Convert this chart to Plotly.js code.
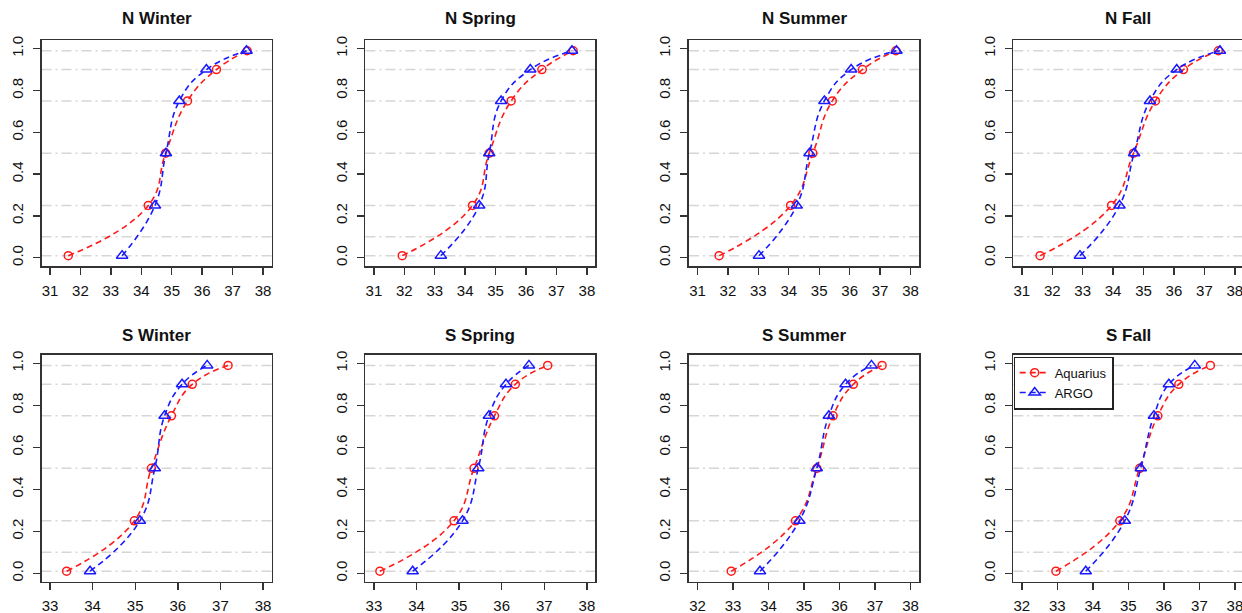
<!DOCTYPE html>
<html>
<head>
<meta charset="utf-8">
<script src="https://cdn.plot.ly/plotly-3.0.1.min.js"></script>
<style>html,body{margin:0;padding:0;background:#fff;}#chart{width:1242px;height:613px;}</style>
</head>
<body>
<div id="chart"></div>
<script>
// Cumulative probability levels (y values) shared by all panels
const probs = [0.01, 0.25, 0.5, 0.75, 0.9, 0.99];
const refLines = [0.01, 0.1, 0.25, 0.5, 0.75, 0.9, 0.99];
const panelTitles = ["N Winter", "N Spring", "N Summer", "N Fall", "S Winter", "S Spring", "S Summer", "S Fall"];
const seriesNames = ["Aquarius", "ARGO"];

// Salinity quantiles
const aquariusNWinter = [31.60, 34.23, 34.80, 35.52, 36.47, 37.48];
const argoNWinter     = [33.37, 34.45, 34.81, 35.25, 36.14, 37.46];
const aquariusNSpring = [31.93, 34.24, 34.79, 35.51, 36.52, 37.55];
const argoNSpring     = [33.20, 34.46, 34.79, 35.18, 36.14, 37.51];
const aquariusNSummer = [31.71, 34.06, 34.79, 35.43, 36.42, 37.52];
const argoNSummer     = [33.02, 34.26, 34.68, 35.17, 36.05, 37.54];
const aquariusNFall   = [31.60, 33.95, 34.67, 35.39, 36.31, 37.46];
const argoNFall       = [32.91, 34.21, 34.69, 35.21, 36.09, 37.51];
const aquariusSWinter = [33.39, 34.98, 35.38, 35.85, 36.34, 37.18];
const argoSWinter     = [33.94, 35.11, 35.46, 35.69, 36.10, 36.69];
const aquariusSSpring = [33.14, 34.88, 35.35, 35.83, 36.32, 37.08];
const argoSSpring     = [33.91, 35.08, 35.45, 35.70, 36.10, 36.64];
const aquariusSSummer = [32.95, 34.76, 35.36, 35.82, 36.39, 37.20];
const argoSSummer     = [33.76, 34.87, 35.36, 35.70, 36.17, 36.90];
const aquariusSFall   = [32.96, 34.76, 35.32, 35.83, 36.42, 37.31];
const argoSFall       = [33.80, 34.90, 35.35, 35.72, 36.14, 36.87];

const aquariusSets = [aquariusNWinter, aquariusNSpring, aquariusNSummer, aquariusNFall,
                      aquariusSWinter, aquariusSSpring, aquariusSSummer, aquariusSFall];
const argoSets = [argoNWinter, argoNSpring, argoNSummer, argoNFall,
                  argoSWinter, argoSSpring, argoSSummer, argoSFall];

// x tick values per panel
const xTickSets = [
  [31,32,33,34,35,36,37,38],[31,32,33,34,35,36,37,38],[31,32,33,34,35,36,37,38],[31,32,33,34,35,36,37,38],
  [33,34,35,36,37,38],[33,34,35,36,37,38],[32,33,34,35,36,37,38],[32,33,34,35,36,37,38]
];
const xRanges = [
  [30.72,38.28],[30.72,38.28],[30.72,38.28],[30.72,38.236],
  [32.80,38.20],[32.80,38.20],[31.76,38.24],[31.76,38.20]
];
const yTicks = [0, 0.2, 0.4, 0.6, 0.8, 1.0];

// layout geometry (pixels)
const W = 1242, H = 613;
const colPx = [[41.5,271.5],[365.4,595.4],[689,919],[1013.3,1242]];
const rowPx = [[40.3,266.1],[354.9,581.7]];
const titleY = [19, 335];

const font = "Liberation Sans, Arial, sans-serif";
const axColor = "#333333";
const data = [];
const layout = {
  width: W, height: H,
  margin: {l:0, r:0, t:0, b:0},
  paper_bgcolor: "#ffffff", plot_bgcolor: "#ffffff",
  showlegend: true,
  legend: {
    x: 1013.5/W, y: 1 - 356.5/H, xanchor: "left", yanchor: "top",
    bordercolor: "#222", borderwidth: 1.2, bgcolor: "#ffffff",
    font: {family: font, size: 13, color: "#111"},
    tracegroupgap: 0, itemwidth: 30
  },
  shapes: [], annotations: []
};

for (let i = 0; i < 8; i++) {
  const n = i + 1;
  const xa = n === 1 ? "x" : "x" + n;
  const ya = n === 1 ? "y" : "y" + n;
  const col = i % 4, row = Math.floor(i / 4);
  const last = col === 3;
  layout[(n === 1 ? "xaxis" : "xaxis" + n)] = {
    domain: [colPx[col][0]/W, Math.min(1, colPx[col][1]/W)],
    anchor: ya, range: xRanges[i], tickmode: "array", tickvals: xTickSets[i],
    showgrid: false, zeroline: false, showline: true, mirror: true,
    linecolor: axColor, linewidth: 1.6,
    ticks: "outside", ticklen: 7, tickwidth: 1.4, tickcolor: axColor,
    ticklabelstandoff: 3, ticklabeloverflow: "allow",
    tickfont: {family: font, size: 15, color: "#111"}
  };
  layout[(n === 1 ? "yaxis" : "yaxis" + n)] = {
    domain: [1 - rowPx[row][1]/H, 1 - rowPx[row][0]/H],
    anchor: xa, range: [-0.04, 1.04], tickmode: "array", tickvals: yTicks,
    tickformat: ".1f", tickangle: -90,
    showgrid: false, zeroline: false, showline: true, mirror: last ? false : true,
    linecolor: axColor, linewidth: 1.6,
    ticks: "outside", ticklen: 7, tickwidth: 1.4, tickcolor: axColor,
    ticklabelstandoff: 4, ticklabeloverflow: "allow",
    tickfont: {family: font, size: 15, color: "#111"}
  };
  refLines.forEach(v => {
    layout.shapes.push({
      type: "line", xref: xa + " domain", yref: ya, x0: 0, x1: 1, y0: v, y1: v,
      line: {color: "#d6d6d6", width: 1.5, dash: "10px,4px,2px,4px"}, layer: "below"
    });
  });
  layout.annotations.push({
    text: "<b>" + panelTitles[i] + "</b>", xref: "paper", yref: "paper",
    x: (colPx[col][0] + 230/2)/W, y: 1 - titleY[row]/H, xanchor: "center", yanchor: "middle",
    showarrow: false, font: {family: font, size: 17, color: "#111"}
  });
  data.push({
    type: "scatter", mode: "lines+markers", x: aquariusSets[i], y: probs,
    xaxis: xa, yaxis: ya, name: seriesNames[0], showlegend: i === 7, legendrank: 1,
    line: {color: "#ff1a1a", width: 1.6, dash: "6px,4px", shape: "spline", smoothing: 1.3},
    marker: {symbol: "circle-open", size: 8, color: "#ff1a1a", line: {width: 1.5, color: "#ff1a1a"}}
  });
  data.push({
    type: "scatter", mode: "lines+markers", x: argoSets[i], y: probs,
    xaxis: xa, yaxis: ya, name: seriesNames[1], showlegend: i === 7, legendrank: 2,
    line: {color: "#1a1aff", width: 1.6, dash: "6px,4px", shape: "spline", smoothing: 1.3},
    marker: {symbol: "triangle-up-open", size: 10, color: "#1a1aff", line: {width: 1.5, color: "#1a1aff"}}
  });
}

Plotly.newPlot("chart", data, layout, {displayModeBar: false, staticPlot: true});
</script>
</body>
</html>
